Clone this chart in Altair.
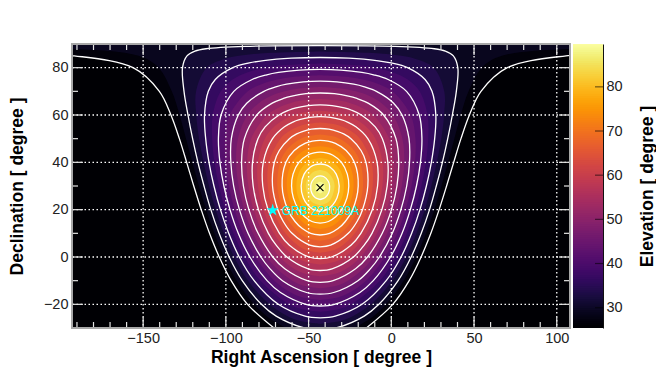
import altair as alt
import pandas as pd

# contour half-widths (degrees of RA either side of the centre), per declination
ra_centre = -43.0

dec25 = [-30, -20, -10, 0, 10, 20, 30, 40, 50, 60, 70, 80, 85, 86, 90]
hw25 = [27.9, 43.9, 53.8, 61.0, 66.9, 71.9, 76.4, 80.7, 85.1, 90.2, 97.2, 113.1, 148.6, 180, 180]
dec30 = [-30.7, -30, -25, -20, -10, 0, 10, 20, 30, 40, 50, 60, 70, 80, 85, 87, 88, 89, 89.3]
hw30 = [0, 9.6, 26.6, 35.5, 47.1, 55.0, 61.1, 66.1, 70.2, 73.9, 77.1, 79.9, 82.3, 83.2, 80.5, 75.7, 69.0, 45.3, 0]
dec35 = [-25.7, -25, -20, -10, 0, 10, 20, 30, 40, 50, 60, 70, 75, 80, 82, 83, 84, 84.3]
hw35 = [0, 9.1, 25.3, 39.9, 48.9, 55.3, 60.3, 64.2, 67.2, 69.2, 69.9, 67.6, 63.4, 52.8, 42.9, 34.2, 17.4, 0]
dec40 = [-20.7, -20, -15, -10, 0, 10, 20, 30, 40, 50, 60, 70, 75, 77, 78, 79, 79.3]
hw40 = [0, 8.6, 24.0, 32.1, 42.5, 49.5, 54.5, 58.2, 60.6, 61.5, 59.9, 52.2, 41.1, 32.3, 25.2, 12.6, 0]
dec45 = [-15.7, -15, -10, -5, 0, 10, 20, 30, 40, 50, 60, 65, 70, 72, 73, 74, 74.3]
hw45 = [0, 8.2, 22.8, 30.3, 35.8, 43.6, 48.8, 52.3, 54.0, 53.7, 49.5, 44.4, 34.0, 26.3, 20.3, 10.2, 0]
dec50 = [-10.7, -10, -5, 0, 10, 20, 30, 40, 50, 60, 65, 67, 68, 69, 69.3]
hw50 = [0, 7.8, 21.4, 28.6, 37.5, 43.1, 46.4, 47.5, 45.8, 38.3, 29.0, 22.2, 17.1, 8.6, 0]
dec55 = [-5.7, -5, 0, 5, 10, 20, 30, 40, 50, 55, 60, 62, 63, 64, 64.3]
hw55 = [0, 7.2, 20.1, 26.6, 31.3, 37.3, 40.5, 40.9, 37.6, 33.3, 24.9, 19.0, 14.6, 7.2, 0]
dec60 = [-0.7, 0, 5, 10, 20, 30, 40, 50, 55, 57, 58, 59, 59.3]
hw60 = [0, 6.8, 18.6, 24.6, 31.5, 34.7, 34.4, 28.8, 21.6, 16.5, 12.6, 6.2, 0]
dec65 = [4.3, 5, 10, 15, 20, 30, 40, 45, 50, 52, 53, 54, 54.3]
hw65 = [0, 6.3, 17.0, 22.3, 25.6, 28.8, 27.7, 24.7, 18.6, 14.2, 10.8, 5.3, 0]
dec70 = [9.3, 10, 12, 15, 20, 30, 40, 45, 48, 49, 49.3]
hw70 = [0, 5.7, 10.8, 15.2, 19.6, 23.0, 20.7, 15.7, 9.2, 4.7, 0]
dec75 = [14.3, 15, 17, 20, 25, 30, 35, 40, 43, 44, 44.3]
hw75 = [0, 5.0, 9.4, 13.0, 16.2, 17.3, 16.4, 12.9, 7.7, 3.8, 0]
dec80 = [19.3, 20, 22, 25, 30, 35, 38, 39, 39.3]
hw80 = [0, 4.1, 7.6, 10.2, 11.5, 9.7, 5.9, 2.9, 0]
dec85 = [24.3, 25, 27, 30, 32, 34, 34.3]
hw85 = [0, 2.9, 5.1, 5.7, 4.9, 2.1, 0]

# unlined colour steps half way between the white contours
dec275 = [-30, -25, -20, -10, 0, 10, 20, 30, 40, 50, 60, 70, 80, 85, 88, 88.2, 90]
hw275 = [20.7, 32.3, 39.9, 50.5, 58.0, 64.0, 69.0, 73.3, 77.3, 81.1, 85.0, 89.7, 97.7, 109.8, 154.3, 180, 180]
dec325 = [-28.2, -27, -25, -20, -10, 0, 10, 20, 30, 40, 50, 60, 70, 80, 84, 85, 86, 86.8]
hw325 = [0, 12.2, 19.7, 30.7, 43.6, 52.0, 58.2, 63.2, 67.2, 70.5, 73.2, 74.9, 75.0, 68.6, 56.3, 49.1, 36.2, 0]
dec375 = [-23.2, -22, -20, -10, 0, 10, 20, 30, 40, 50, 60, 70, 75, 78, 80, 81, 81.8]
hw375 = [0, 11.6, 18.7, 36.1, 45.7, 52.4, 57.4, 61.2, 63.9, 65.3, 64.9, 60.1, 52.9, 44.1, 33.1, 23.2, 0]
dec425 = [-18.2, -17, -15, -10, 0, 10, 20, 30, 40, 50, 60, 70, 73, 75, 76, 76.8]
hw425 = [0, 11.0, 17.8, 27.7, 39.2, 46.6, 51.7, 55.2, 57.3, 57.6, 54.7, 43.7, 35.5, 26.0, 18.0, 0]
dec475 = [-13.2, -12, -10, -5, 0, 10, 20, 30, 40, 50, 60, 65, 68, 70, 71, 71.8]
hw475 = [0, 10.4, 16.8, 26.1, 32.3, 40.6, 45.9, 49.3, 50.8, 49.7, 44.0, 37.1, 29.8, 21.6, 14.7, 0]
dec525 = [-8.2, -7, -5, 0, 10, 20, 30, 40, 50, 60, 63, 65, 66, 66.8]
hw525 = [0, 9.7, 15.8, 24.5, 34.4, 40.2, 43.4, 44.2, 41.7, 32.1, 25.5, 18.3, 12.5, 0]
dec575 = [-3.2, -2, 0, 5, 10, 20, 30, 40, 50, 55, 58, 60, 61, 61.8]
hw575 = [0, 9.1, 14.7, 22.8, 28.0, 34.4, 37.6, 37.7, 33.4, 27.8, 22.0, 15.8, 10.7, 0]
dec625 = [1.8, 3, 5, 10, 20, 30, 40, 50, 53, 55, 56, 56.8]
hw625 = [0, 8.5, 13.6, 21.0, 28.6, 31.7, 31.0, 24.0, 19.0, 13.6, 9.3, 0]
dec675 = [6.8, 8, 10, 15, 20, 30, 40, 45, 48, 50, 51, 51.8]
hw675 = [0, 7.7, 12.4, 18.9, 22.6, 25.9, 24.2, 20.5, 16.2, 11.7, 7.9, 0]
dec725 = [11.8, 13, 15, 20, 25, 30, 35, 40, 44, 46, 46.8]
hw725 = [0, 6.9, 11.0, 16.4, 19.1, 20.2, 19.6, 16.9, 11.9, 6.7, 0]
dec775 = [16.8, 18, 20, 25, 30, 35, 38, 41, 41.8]
hw775 = [0, 5.8, 9.2, 13.2, 14.4, 13.2, 10.8, 5.5, 0]
dec825 = [21.8, 23, 25, 30, 33, 36, 36.8]
hw825 = [0, 4.6, 6.9, 8.7, 7.7, 4.1, 0]
dec875 = [26.8, 28, 29.3, 31, 31.8]
hw875 = [0, 2.6, 2.9, 2.3, 0]

contours = [
    (25, dec25, hw25), (30, dec30, hw30), (35, dec35, hw35), (40, dec40, hw40),
    (45, dec45, hw45), (50, dec50, hw50), (55, dec55, hw55), (60, dec60, hw60),
    (65, dec65, hw65), (70, dec70, hw70), (75, dec75, hw75), (80, dec80, hw80),
    (85, dec85, hw85),
]
mid_steps = [
    (27.5, dec275, hw275), (32.5, dec325, hw325), (37.5, dec375, hw375), (42.5, dec425, hw425),
    (47.5, dec475, hw475), (52.5, dec525, hw525), (57.5, dec575, hw575), (62.5, dec625, hw625),
    (67.5, dec675, hw675), (72.5, dec725, hw725), (77.5, dec775, hw775), (82.5, dec825, hw825),
    (87.5, dec875, hw875),
]

x_major = [-150, -100, -50, 0, 50, 100]
x_minor = [-190, -180, -170, -160, -140, -130, -120, -110, -90, -80, -70, -60, -40, -30, -20, -10, 10, 20, 30, 40, 60, 70, 80, 90]
y_major = [-20, 0, 20, 40, 60, 80]
y_minor = [-30, -10, 10, 30, 50, 70, 90]
bar_ticks = [30, 40, 50, 60, 70, 80]
bar_steps = [25.4 + 0.5 * i for i in range(129)]

W, H = 498, 284
FONT = "Liberation Sans"
x_scale = alt.Scale(domain=[-193, 108], nice=False, zero=False)
y_scale = alt.Scale(domain=[-30, 90], nice=False, zero=False)
c_scale = alt.Scale(scheme="inferno", domain=[25.4, 89.7], clamp=True)
one = pd.DataFrame({"a": [0]})

x_axis = alt.Axis(
    title="Right Ascension [ degree ]", values=x_major, domain=False, ticks=False, grid=False,
    labelFont=FONT, labelFontSize=14.5, labelColor="#222222", labelPadding=3,
    titleFont=FONT, titleFontSize=17.5, titleFontWeight="bold", titleColor="black", titlePadding=4)
y_axis = alt.Axis(
    title="Declination [ degree ]", values=y_major, domain=False, ticks=False, grid=False,
    labelFont=FONT, labelFontSize=14.5, labelColor="#222222", labelPadding=4,
    titleFont=FONT, titleFontSize=17.5, titleFontWeight="bold", titleColor="black", titlePadding=17)

def X(f):
    return alt.X(f, scale=x_scale, axis=x_axis)
def Y(f):
    return alt.Y(f, scale=y_scale, axis=y_axis)

layers = [alt.Chart(pd.DataFrame({"x": [0], "y": [0]})).mark_rect(color="#000004").encode(
    x=alt.value(0), x2=alt.value(W), y=alt.value(0), y2=alt.value(H))]

# filled steps between contours, outermost first
all_steps = sorted(contours + mid_steps, key=lambda s: s[0])
for level, decs, hws in all_steps:
    band = pd.DataFrame({
        "dec": decs,
        "left": [ra_centre - h for h in hws],
        "right": [ra_centre + h for h in hws],
        "mid": [level + 1.25] * len(decs),
    })
    layers.append(alt.Chart(band).mark_area(orient="horizontal", interpolate="catmull-rom", clip=True).encode(
        y=Y("dec:Q"), x=X("left:Q"), x2="right:Q",
        color=alt.Color("mid:Q", scale=c_scale, legend=None),
    ))

# dotted grid
grid_style = dict(color="white", strokeDash=[1.5, 2.5], strokeWidth=1.3)
layers.append(alt.Chart(pd.DataFrame({"v": x_major})).mark_rule(**grid_style).encode(x=X("v:Q")))
layers.append(alt.Chart(pd.DataFrame({"v": y_major})).mark_rule(**grid_style).encode(y=Y("v:Q")))

# white contour lines
line_style = dict(color="white", strokeWidth=1.3, interpolate="catmull-rom", clip=True)
for level, decs, hws in contours:
    if level == 25:
        for sign in (-1, 1):
            df = pd.DataFrame({"dec": decs[:-1], "ra": [ra_centre + sign * h for h in hws[:-1]]})
            df["i"] = range(len(df))
            layers.append(alt.Chart(df).mark_line(**line_style).encode(x=X("ra:Q"), y=Y("dec:Q"), order="i:Q"))
    else:
        ra = [ra_centre - h for h in hws] + [ra_centre + h for h in hws[-2::-1]]
        dc = list(decs) + list(decs[-2::-1])
        df = pd.DataFrame({"dec": dc, "ra": ra})
        df["i"] = range(len(df))
        layers.append(alt.Chart(df).mark_line(**line_style).encode(x=X("ra:Q"), y=Y("dec:Q"), order="i:Q"))

# inward ticks on all four sides
tick_color = "#e4e4e4"
def xticks(vals, length):
    base = alt.Chart(pd.DataFrame({"v": vals})).mark_rule(color=tick_color, strokeWidth=1.2)
    return [base.encode(x=X("v:Q"), y=alt.value(H - length), y2=alt.value(H)),
            base.encode(x=X("v:Q"), y=alt.value(0), y2=alt.value(length))]
def yticks(vals, length):
    base = alt.Chart(pd.DataFrame({"v": vals})).mark_rule(color=tick_color, strokeWidth=1.2)
    return [base.encode(y=Y("v:Q"), x=alt.value(0), x2=alt.value(length)),
            base.encode(y=Y("v:Q"), x=alt.value(W - length), x2=alt.value(W))]
layers += xticks(x_minor, 6) + xticks(x_major, 11) + yticks(y_minor, 6) + yticks(y_major, 11)

# zenith cross, GRB star and its label
layers.append(alt.Chart(pd.DataFrame({"x": [-43.1], "y": [29.3]})).mark_point(
    shape="M-1,-1L1,1M-1,1L1,-1", color="black", strokeWidth=1.2, size=49, opacity=1).encode(
    x=X("x:Q"), y=Y("y:Q")))
star = pd.DataFrame({"x": [-71.7], "y": [19.8], "t": ["GRB 221009A"]})
layers.append(alt.Chart(star).mark_point(
    shape="M0,-1L0.224,-0.309L0.951,-0.309L0.363,0.118L0.588,0.809L0,0.382L-0.588,0.809L-0.363,0.118L-0.951,-0.309L-0.224,-0.309Z",
    filled=True, color="#00ffff", size=170, opacity=1).encode(x=X("x:Q"), y=Y("y:Q")))
layers.append(alt.Chart(star).mark_text(
    align="left", baseline="middle", dx=9, dy=1, font=FONT, fontSize=12, color="#00ffff").encode(
    x=X("x:Q"), y=Y("y:Q"), text="t:N"))

# frame
layers.append(alt.Chart(one).mark_rect(filled=False, stroke="#a8a8a8", strokeWidth=2).encode(
    x=alt.value(0), x2=alt.value(W), y=alt.value(0), y2=alt.value(H)))

main = alt.layer(*layers).properties(width=W, height=H)

# colour bar
bar_y = alt.Scale(domain=[25.4, 89.7], nice=False, zero=False)
bar_axis = alt.Axis(
    orient="right", title="Elevation [ degree ]", values=bar_ticks, ticks=False, grid=False,
    domain=True, domainColor="#111111", domainWidth=1,
    labelFont=FONT, labelFontSize=14.5, labelColor="#222222", labelPadding=3,
    titleFont=FONT, titleFontSize=17.5, titleFontWeight="bold", titleColor="black",
    titleAngle=270, titlePadding=34)
bar_df = pd.DataFrame({"v": bar_steps, "v2": [v + 1.0 for v in bar_steps]})
bar = alt.Chart(bar_df).mark_rect(clip=True).encode(
    x=alt.value(0), x2=alt.value(30),
    y=alt.Y("v:Q", scale=bar_y, axis=bar_axis),
    y2="v2:Q",
    color=alt.Color("v:Q", scale=c_scale, legend=None),
)
bar_tick = alt.Chart(pd.DataFrame({"v": bar_ticks})).mark_rule(color="black", opacity=0.55, strokeWidth=1.2).encode(
    y=alt.Y("v:Q", scale=bar_y, axis=bar_axis), x=alt.value(22), x2=alt.value(30))
side = alt.layer(bar, bar_tick).properties(width=30, height=H)

chart = alt.hconcat(main, side, spacing=2).properties(
    padding={"left": 0, "top": 35, "right": 0, "bottom": 5}, background="white"
).configure_view(stroke=None)

chart.save("out.html", embed_options={"renderer": "svg", "actions": False})
